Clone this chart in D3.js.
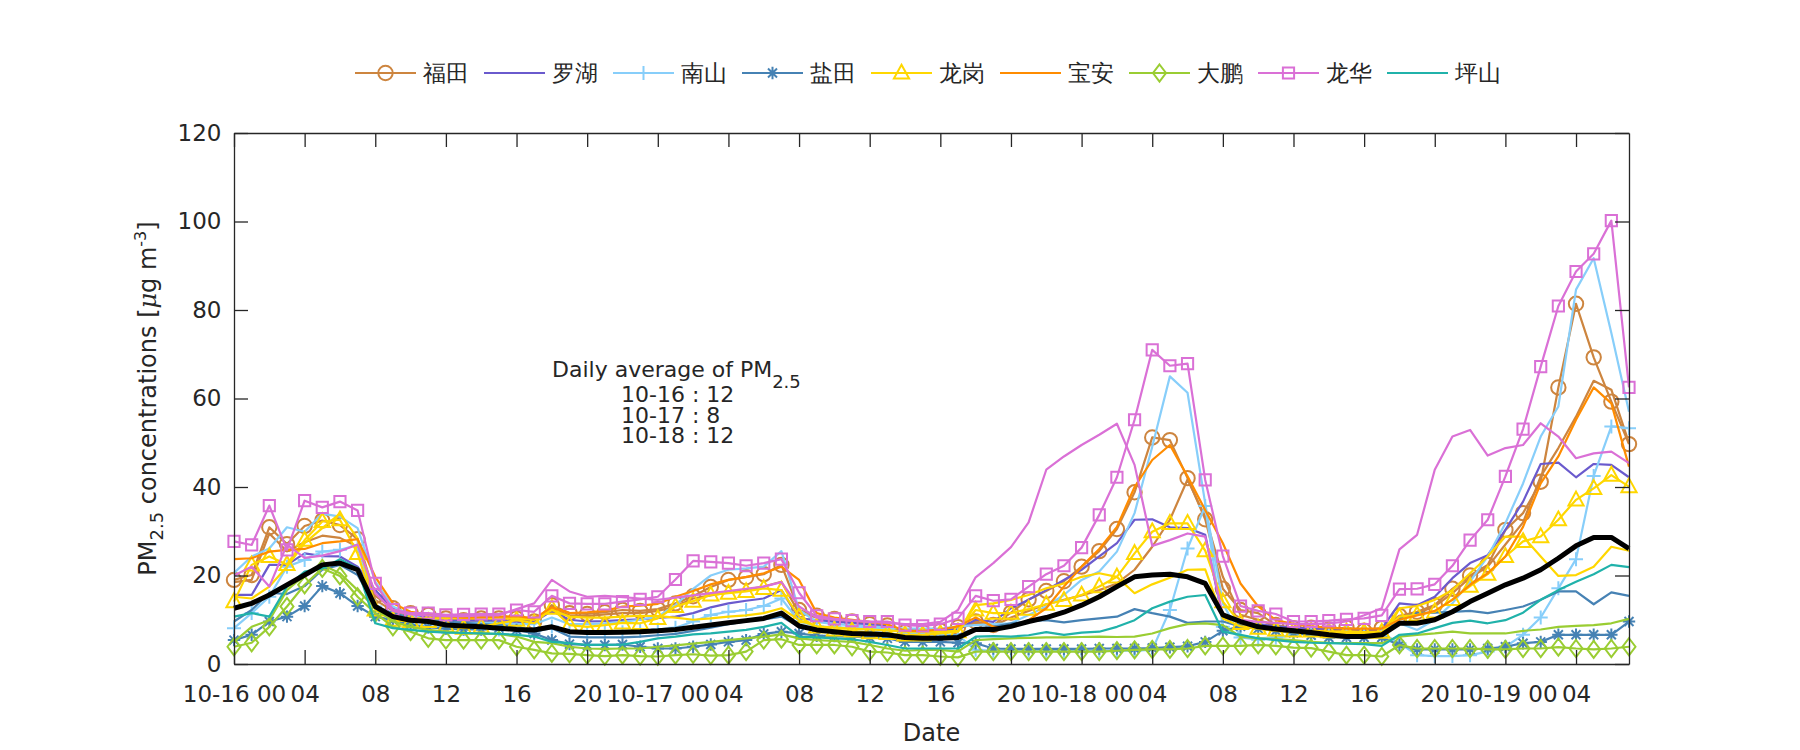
<!DOCTYPE html>
<html><head><meta charset="utf-8">
<script src="https://cdn.jsdelivr.net/npm/d3@7/dist/d3.min.js"></script>
<style>
body{margin:0;background:#fff}
svg{display:block}
text{font-family:"DejaVu Sans",sans-serif;fill:#262626}
</style>
</head><body>
<svg id="chart" width="1800" height="750"></svg>
<script>
// ---------- DATA (hourly, 10-16 00:00 .. 10-19 07:00) ----------
const hours = d3.range(0, 80);
const xTickValues = [0,4,8,12,16,20,24,28,32,36,40,44,48,52,56,60,64,68,72,76];
const xTickLabels = ["10-16 00","04","08","12","16","20","10-17 00","04","08","12","16","20","10-18 00","04","08","12","16","20","10-19 00","04"];
const yTickValues = [0,20,40,60,80,100,120];
const districts = ["福田","罗湖","南山","盐田","龙岗","宝安","大鹏","龙华","坪山"];
const dailyAverage = [["10-16",12],["10-17",8],["10-18",12]];

const futian1 = [19.0,20.1,30.9,27.1,31.2,32.4,31.4,28.2,15.4,12.6, 11.5,11.1,10.3,9.9,10.3,10.3,10.3,9.6,13.3,11.5,
 11.3,11.7,12.2,12.0,12.4,13.7,15.3,17.4,19.0,19.6, 20.3,22.4,12.2,10.9,10.2,9.6,9.0,8.7,7.2,7.2,
 7.5,8.3,9.6,8.8,11.6,14.6,16.5,18.7,22.0,25.5, 30.5,38.8,51.2,50.6,42.0,32.7,17.0,12.2,11.5,8.8,
 8.1,8.2,7.8,8.2,7.5,8.1,10.9,11.8,13.3,17.0, 20.0,22.4,30.3,34.1,41.2,62.5,81.4,69.3,59.3,49.7];
const futian2 = [18.5,19.0,29.5,25.5,27.5,29.0,28.5,26.5,14.5,12.0, 11.0,10.8,10.0,9.6,9.8,9.8,9.8,9.3,12.5,11.0,
 10.8,11.2,11.5,11.5,12.0,13.0,14.8,15.5,16.2,16.8, 17.5,18.6,11.5,10.5,9.8,9.3,8.8,8.5,7.3,7.2,
 7.4,8.0,9.3,8.6,10.5,12.0,13.5,14.5,15.5,16.7, 18.2,21.3,26.5,32.6,41.7,33.3,19.7,11.1,10.0,8.6,
 8.0,8.0,7.6,7.8,7.4,7.8,10.5,11.5,13.0,16.0, 19.5,22.0,27.0,32.0,42.4,48.8,55.9,64.0,62.0,49.9];
const luohu = [15.6,15.6,22.4,22.4,25.0,24.4,24.3,22.0,16.7,12.5, 11.0,10.5,10.0,9.8,9.8,9.8,9.5,9.5,12.0,10.0,
 9.6,9.7,9.9,10.1,10.4,10.7,11.5,12.8,13.7,14.3, 14.8,16.7,10.3,9.9,9.5,9.3,8.9,8.5,7.8,7.5,
 7.5,7.8,10.0,9.5,12.6,14.5,16.7,19.0,21.3,24.3, 27.3,32.6,32.7,30.9,30.7,29.2,10.3,9.5,9.0,8.5,
 8.2,8.0,8.0,8.0,7.8,8.0,13.7,13.3,15.2,19.4, 22.8,24.6,30.3,36.7,45.2,45.5,42.2,45.2,45.0,42.2];
const nanshan1 = [8.1,11.5,15.2,22.0,23.5,25.4,25.8,26.9,13.0,10.0, 9.0,8.5,8.2,8.0,8.0,7.8,7.8,7.5,8.5,7.2,
 7.0,7.0,7.2,7.5,7.8,8.2,9.6,11.1,11.8,12.2, 13.1,14.8,9.6,8.5,8.3,8.2,8.1,8.0,7.0,7.0,
 6.8,6.5,3.2,3.0,3.0,3.0,3.0,3.0,3.0,3.0, 3.0,3.0,3.2,12.2,26.1,35.7,8.4,6.0,5.5,6.0,
 6.5,7.0,7.0,7.0,7.0,7.0,4.7,2.0,1.8,1.8, 2.0,2.8,3.9,6.6,10.5,17.1,23.7,42.5,53.7,53.3];
const nanshan2 = [20.6,24.3,26.1,30.9,29.9,34.0,33.3,30.7,18.6,13.0, 11.0,10.0,9.5,9.3,9.3,9.3,9.0,9.0,10.5,9.0,
 9.0,9.2,9.5,10.0,10.7,13.3,17.0,20.0,21.3,21.6, 22.0,25.5,12.2,9.5,9.0,8.8,8.5,8.3,8.0,8.0,
 8.0,8.5,8.8,9.0,9.2,11.1,13.0,15.6,19.0,20.9, 25.4,34.1,49.1,65.0,61.3,36.3,13.7,6.2,5.8,6.0,
 6.5,7.0,7.0,7.0,7.0,7.0,9.2,7.7,10.0,13.7, 18.6,24.3,31.8,40.8,51.4,58.2,84.6,91.7,74.8,57.0];
const yantian1 = [5.4,6.6,9.6,10.7,13.1,17.6,16.0,13.1,10.7,9.9, 8.8,8.3,8.0,7.8,7.8,8.1,7.7,6.9,5.4,4.5,
 4.3,4.3,4.4,3.9,3.5,3.5,3.9,4.4,5.0,5.4, 6.8,7.3,6.9,6.4,6.3,6.2,6.0,5.8,5.0,5.0,
 5.0,4.8,4.7,3.5,3.4,3.4,3.4,3.4,3.4,3.5, 3.5,3.5,3.6,3.8,4.0,5.0,7.5,8.5,8.0,7.5,
 7.0,6.5,6.0,6.0,6.0,6.0,4.3,3.3,3.3,3.3, 3.3,3.5,3.9,4.7,5.0,6.6,6.6,6.6,6.6,9.6];
const yantian2 = [9.6,12.2,16.1,15.8,17.6,21.3,22.4,20.1,13.0,11.5, 10.5,10.0,9.6,9.3,9.0,8.8,8.5,7.3,8.1,6.2,
 6.0,6.0,6.0,6.2,6.5,6.8,7.5,8.2,9.0,9.6, 10.1,10.7,8.4,7.8,7.5,7.3,7.2,7.0,6.4,6.2,
 6.2,6.5,8.1,8.4,9.2,9.6,9.9,9.4,9.9,10.3, 10.7,12.4,11.5,10.7,9.3,9.6,9.6,8.5,8.0,7.6,
 7.3,7.0,7.0,7.0,7.0,7.0,10.3,11.5,11.6,11.8, 12.0,11.5,12.2,13.0,14.5,16.4,16.4,13.5,16.2,15.4];
const longgang1 = [14.1,22.4,24.3,22.5,28.0,32.2,32.6,25.0,12.2,9.9, 9.6,9.6,8.6,8.1,8.4,9.2,9.9,9.2,12.6,8.8,
 8.4,8.8,9.3,9.2,10.3,13.0,14.2,15.6,16.0,16.4, 17.1,16.7,10.7,8.4,7.7,7.5,7.1,6.9,6.6,6.6,
 6.9,7.3,12.2,11.5,11.5,12.4,13.5,14.4,15.6,17.5, 19.7,25.0,29.9,31.8,31.8,25.6,14.1,9.2,8.1,7.7,
 7.5,7.5,7.3,7.3,7.2,7.2,10.7,11.1,11.8,14.6, 17.6,20.3,24.3,27.7,28.8,32.6,37.1,39.7,42.7,40.1];
const longgang2 = [15.2,14.8,17.5,22.0,27.3,30.7,34.0,28.4,13.0,10.7, 10.3,10.3,10.3,10.3,10.3,10.3,10.3,10.0,12.2,10.7,
 10.5,10.5,10.7,10.9,10.8,10.5,10.0,10.3,10.7,11.0, 11.5,12.6,9.9,8.5,8.2,8.0,7.8,7.6,7.3,7.3,
 7.3,7.5,13.3,13.7,14.5,15.6,17.1,18.2,19.7,20.5, 19.7,16.0,18.0,19.5,21.3,21.4,10.3,8.5,8.0,7.5,
 7.2,7.0,7.0,7.0,7.0,7.0,12.6,13.1,14.5,16.7, 20.5,24.3,28.8,28.8,24.3,19.9,20.1,22.0,26.5,25.6];
const baoan = [23.7,23.9,25.4,25.8,26.0,27.3,27.7,28.2,19.7,13.7, 11.8,11.2,10.8,10.5,10.6,10.7,10.8,10.3,12.8,11.5,
 11.7,12.0,13.0,13.2,13.6,15.2,16.5,18.0,19.0,19.7, 20.5,22.0,19.0,11.5,10.5,10.0,9.5,9.0,7.5,7.5,
 7.8,8.5,10.5,8.4,8.3,9.9,12.6,17.5,22.0,26.0, 31.0,40.0,46.1,49.5,42.4,34.8,27.3,18.2,13.0,9.9,
 9.0,8.5,8.2,8.0,8.0,8.0,10.0,11.0,12.0,14.5, 17.9,20.5,24.3,31.0,40.8,46.9,55.2,62.5,58.9,44.6];
const dapeng1 = [3.9,4.8,8.4,13.0,17.9,21.6,19.9,15.2,11.5,8.4, 7.3,5.8,5.4,5.4,5.4,5.4,3.9,3.2,2.4,2.3,
 2.0,1.8,2.0,1.8,1.7,2.0,2.2,1.9,2.0,2.8, 5.4,5.6,4.3,4.3,4.3,3.9,2.8,2.6,2.0,2.0,
 1.7,1.5,2.8,2.8,2.8,2.8,2.8,2.8,2.8,2.8, 3.0,3.2,3.3,3.3,3.5,4.1,4.1,4.1,4.3,4.1,
 3.7,3.6,2.8,2.0,2.0,1.7,4.3,3.5,3.5,3.5, 3.5,3.3,3.3,3.5,3.5,3.8,3.5,3.3,3.5,3.9];
const dapeng2 = [5.0,8.4,9.9,16.7,20.1,22.4,20.5,16.7,12.6,9.6, 8.4,7.7,7.3,7.0,6.8,6.8,6.2,5.0,4.7,3.9,
 3.5,3.4,3.5,3.5,3.9,4.2,4.6,5.0,5.4,5.8, 6.2,6.7,5.8,5.4,5.2,5.0,4.3,3.5,3.0,3.2,
 3.2,2.8,5.4,5.6,5.8,5.9,6.0,6.0,6.1,6.2, 6.1,6.2,6.9,8.1,9.0,9.2,8.8,6.2,5.8,5.6,
 5.4,5.0,4.8,4.7,4.7,4.7,6.2,6.6,6.9,7.3, 6.9,6.9,6.9,7.5,7.8,8.4,8.6,8.8,9.2,10.2];
const longhua1 = [27.7,26.9,35.8,25.8,36.9,35.4,36.7,34.7,18.2,12.3, 11.5,11.5,11.1,11.2,11.3,11.3,12.2,11.8,15.4,13.7,
 13.6,13.6,14.1,14.6,15.2,19.1,23.3,23.1,22.8,22.2, 22.8,23.7,16.1,10.9,10.2,9.8,9.6,9.6,8.8,8.6,
 9.0,10.3,15.4,14.3,14.6,17.5,20.3,22.2,26.3,33.7, 42.2,55.2,71.0,67.4,67.9,41.6,24.4,13.1,12.0,11.3,
 9.6,9.6,9.8,10.1,10.3,11.0,16.9,17.0,18.0,22.2, 28.0,32.6,42.4,53.1,67.2,80.9,88.7,92.7,100.2,62.5];
const longhua2 = [20.0,22.0,17.5,27.0,24.0,24.5,25.5,27.0,16.0,12.0, 11.2,11.0,10.8,10.8,11.0,11.0,12.4,13.7,19.0,16.4,
 15.2,15.4,15.1,14.8,14.5,15.0,15.5,16.0,16.5,17.0, 17.5,18.5,13.0,10.5,10.0,9.8,9.5,9.3,9.0,9.0,
 9.5,12.2,19.6,22.8,26.4,32.0,43.9,46.9,49.5,51.8, 54.3,45.0,26.7,28.0,29.5,28.8,11.0,10.0,9.5,9.3,
 9.0,9.0,9.2,9.6,11.0,12.6,25.9,29.2,43.9,51.4, 52.9,47.1,48.8,49.5,54.4,51.4,46.5,47.6,48.0,45.4];
const pingshan = [10.7,11.5,10.7,17.5,20.9,21.6,23.7,21.6,9.2,8.1, 7.7,7.3,7.1,7.0,6.9,6.8,6.6,6.2,5.0,4.7,
 4.3,4.3,4.4,5.0,5.8,6.2,6.7,6.9,7.3,7.7, 8.4,9.3,6.2,6.0,5.8,5.6,5.0,4.3,3.5,3.5,
 3.5,3.5,6.2,6.3,6.2,6.5,7.2,6.6,7.1,7.3, 8.4,9.9,12.6,14.1,15.2,15.6,7.3,6.6,5.8,5.4,
 5.0,4.8,4.7,4.6,4.5,4.1,6.6,6.9,8.1,9.3, 9.8,9.2,9.9,11.6,14.5,16.7,18.6,20.3,22.4,21.9];
const cityMean = [12.6,13.7,15.6,17.9,20.1,22.4,22.8,21.3,13.0,10.7, 9.9,9.6,8.8,8.6,8.4,8.1,7.8,7.7,8.4,7.3,
 7.1,7.1,7.2,7.3,7.5,7.8,8.3,8.8,9.3,9.8, 10.3,11.5,8.6,7.7,7.3,6.9,6.8,6.6,6.0,5.8,
 5.8,6.0,7.8,7.8,8.5,9.6,10.5,11.7,13.3,15.2, 17.5,19.7,20.1,20.3,19.7,18.2,11.1,9.6,8.4,7.9,
 7.5,7.1,6.6,6.2,6.2,6.6,9.2,9.2,10.0,11.8, 14.1,16.0,17.9,19.4,21.3,23.9,26.7,28.6,28.6,26.1];

// ---------- STYLES ----------
const colorOf = {"福田":"#CD853F","罗湖":"#6A5ACD","南山":"#87CEFA","盐田":"#4682B4","龙岗":"#FFD700",
  "宝安":"#FF8C00","大鹏":"#9ACD32","龙华":"#DA70D6","坪山":"#20B2AA"};
const markerOf = {"福田":"circle","罗湖":null,"南山":"plus","盐田":"asterisk","龙岗":"triangle",
  "宝安":null,"大鹏":"diamond","龙华":"square","坪山":null};

const stations = [
  {d:"福田", v:futian1, m:"circle"}, {d:"福田", v:futian2, m:null},
  {d:"罗湖", v:luohu, m:null},
  {d:"南山", v:nanshan1, m:"plus"}, {d:"南山", v:nanshan2, m:null},
  {d:"盐田", v:yantian1, m:"asterisk"}, {d:"盐田", v:yantian2, m:null},
  {d:"龙岗", v:longgang1, m:"triangle"}, {d:"龙岗", v:longgang2, m:null},
  {d:"宝安", v:baoan, m:null},
  {d:"大鹏", v:dapeng1, m:"diamond"}, {d:"大鹏", v:dapeng2, m:null},
  {d:"龙华", v:longhua1, m:"square"}, {d:"龙华", v:longhua2, m:null},
  {d:"坪山", v:pingshan, m:null}
];

const markerPath = {
  circle: "M-7.2,0a7.2,7.2 0 1,0 14.4,0a7.2,7.2 0 1,0 -14.4,0Z",
  square: "M-5.6,-5.6H5.6V5.6H-5.6Z",
  triangle: "M0,-8.2L7.6,5.6L-7.6,5.6Z",
  diamond: "M0,-8.5L6.5,0L0,8.5L-6.5,0Z",
  plus: "M-7,0H7M0,-7V7",
  asterisk: "M-6.2,0H6.2M0,-6.2V6.2M-4.5,-4.5L4.5,4.5M-4.5,4.5L4.5,-4.5"
};

// ---------- LAYOUT ----------
const svg = d3.select("#chart");
const P = {l:234, r:1629, t:133, b:664};
const x = d3.scaleLinear().domain([0,79]).range([P.l,P.r]);
const y = d3.scaleLinear().domain([0,120]).range([P.b,P.t]);
const axisColor = "#262626";
const FS = 23;

// lines
const line = d3.line().x((d,i)=>x(hours[i])).y(d=>y(d));
const g = svg.append("g");
stations.forEach(s=>{
  g.append("path").attr("d", line(s.v)).attr("fill","none")
    .attr("stroke", colorOf[s.d]).attr("stroke-width", 2.2).attr("stroke-linejoin","round");
  if (s.m) {
    g.append("g").selectAll("path").data(s.v).join("path")
      .attr("d", markerPath[s.m])
      .attr("transform",(d,i)=>`translate(${x(hours[i])},${y(d)})`)
      .attr("fill","none").attr("stroke", colorOf[s.d]).attr("stroke-width",2);
  }
});
g.append("path").attr("d", line(cityMean)).attr("fill","none")
  .attr("stroke","#000").attr("stroke-width",5).attr("stroke-linejoin","round");

// axes
function styleAxis(sel){
  sel.selectAll(".domain").attr("stroke",axisColor).attr("stroke-width",1.3);
  sel.selectAll(".tick line").attr("stroke",axisColor).attr("stroke-width",1.3);
  sel.selectAll("text").attr("font-size",FS).attr("font-family","DejaVu Sans").attr("fill",axisColor);
}
const xb = svg.append("g").attr("transform",`translate(0,${P.b})`)
  .call(d3.axisBottom(x).tickValues(xTickValues).tickFormat((d,i)=>xTickLabels[i])
    .tickSize(-14).tickSizeOuter(0).tickPadding(21.5));
styleAxis(xb);
const xt = svg.append("g").attr("transform",`translate(0,${P.t})`)
  .call(d3.axisTop(x).tickValues(xTickValues).tickFormat("").tickSize(-14).tickSizeOuter(0));
styleAxis(xt);
const yl = svg.append("g").attr("transform",`translate(${P.l},0)`)
  .call(d3.axisLeft(y).tickValues(yTickValues).tickSize(-14).tickSizeOuter(0).tickPadding(12.5));
styleAxis(yl);
const yr = svg.append("g").attr("transform",`translate(${P.r},0)`)
  .call(d3.axisRight(y).tickValues(yTickValues).tickFormat("").tickSize(-14).tickSizeOuter(0));
styleAxis(yr);

// axis labels
svg.append("text").attr("x",(P.l+P.r)/2).attr("y",741).attr("text-anchor","middle")
  .attr("font-size",24).text("Date");
const yLab = svg.append("text").attr("transform",`translate(156,${(P.t+P.b)/2}) rotate(-90)`)
  .attr("text-anchor","middle").attr("font-size",24);
yLab.append("tspan").text("PM");
yLab.append("tspan").attr("font-size",18).attr("dy",7).text("2.5");
yLab.append("tspan").attr("dy",-7).text(" concentrations [");
yLab.append("tspan").attr("font-style","italic").attr("font-family","DejaVu Serif").text("μ");
yLab.append("tspan").text("g m");
yLab.append("tspan").attr("font-size",16).attr("dy",-10).text("-3");
yLab.append("tspan").attr("dy",10).text("]");

// annotation
const AFS = 22;
const ann = svg.append("text").attr("x",552).attr("y",377).attr("font-size",AFS);
ann.append("tspan").text("Daily average of PM");
ann.append("tspan").attr("font-size",18).attr("dy",11).text("2.5");
dailyAverage.forEach((r,i)=>{
  svg.append("text").attr("x",621).attr("y",402+i*20.5).attr("font-size",AFS)
    .text(`${r[0]} : ${r[1]}`);
});

// legend
const legX0 = 355, legPitch = 129, legY = 73;
districts.forEach((d,i)=>{
  const lx = legX0 + i*legPitch;
  const lg = svg.append("g");
  lg.append("line").attr("x1",lx).attr("x2",lx+61).attr("y1",legY).attr("y2",legY)
    .attr("stroke",colorOf[d]).attr("stroke-width",2.2);
  if (markerOf[d]) lg.append("path").attr("d",markerPath[markerOf[d]])
    .attr("transform",`translate(${lx+30.5},${legY})`).attr("fill","none")
    .attr("stroke",colorOf[d]).attr("stroke-width",2);
  lg.append("text").attr("x",lx+67.5).attr("y",legY+8).attr("font-size",23)
    .attr("font-family","Noto Sans CJK SC").attr("fill","#000").text(d);
});
</script>
</body></html>
